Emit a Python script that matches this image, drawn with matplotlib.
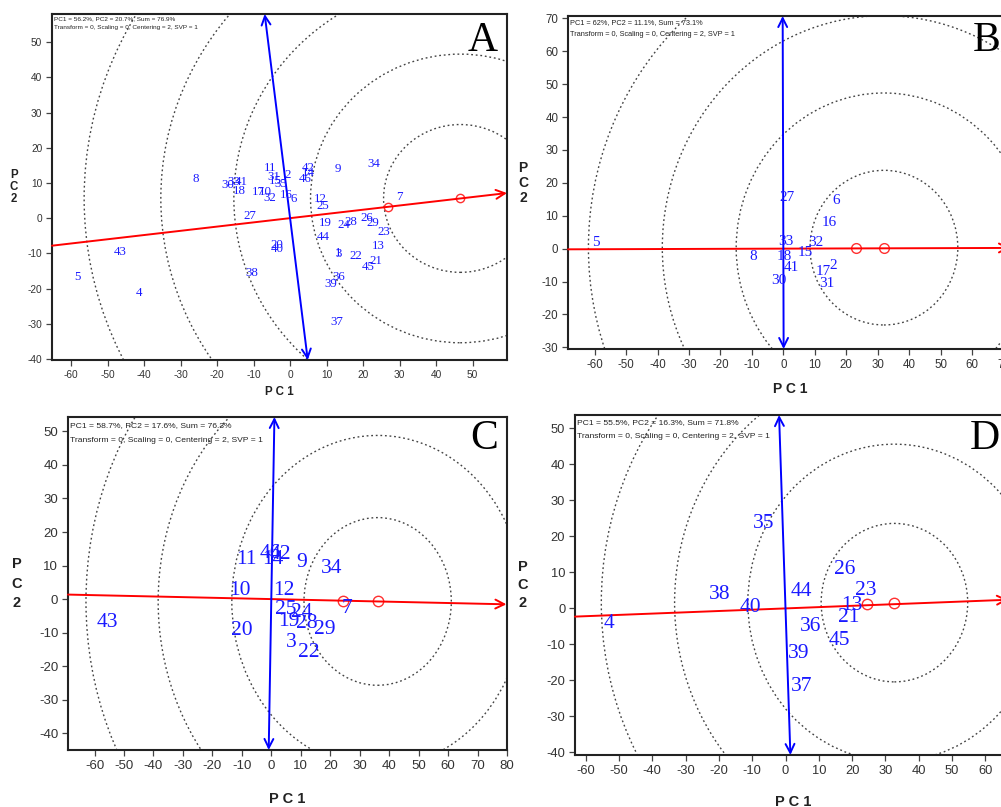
import numpy as np
import matplotlib
matplotlib.use('Agg')
import matplotlib.pyplot as plt
from matplotlib.patches import Circle

W, H = 1001, 807

# ---- panel A (all genotypes) ----
a_labels = [str(i) for i in range(1, 47)]
a_pc1 = [13.1, -0.7, 13.4, -41.3, -58.3, 0.9, 29.9, -25.8, 13.2, -6.7,
         -5.5, 8.4, 24.2, 5.0, -4.1, -1.1, -8.7, -13.9, 9.6, -3.65,
         23.5, 18.0, 25.8, 14.6, 8.95, 21.0, -11.0, 16.7, 22.6, -17.1,
         -4.4, -5.5, -15.5, 23.0, -2.5, 13.4, 12.8, -10.5, 11.2, -3.65,
         -13.5, 5.0, -46.4, 8.95, 21.3, 4.1]
a_pc2 = [-10.0, 12.3, -10.2, -21.4, -16.8, 5.35, 6.1, 11.1, 14.0, 7.3,
         14.3, 5.4, -7.9, 12.9, 10.6, 6.6, 7.3, 7.8, -1.5, -7.6,
         -12.2, -10.75, -3.8, -1.9, 3.45, 0.0, 0.7, -1.0, -1.5, 9.4,
         11.8, 5.7, 10.4, 15.4, 9.6, -16.8, -29.4, -15.5, -18.8, -8.7,
         10.4, 14.3, -9.7, -5.45, -13.8, 11.0]
a_slope = 0.12
a_mark_x = [26.9, 46.6]
a_mark_y = [3.3, 5.6]
a_rings = [21, 41, 62, 82, 103]
a_stats = ['PC1 = 56.2%, PC2 = 20.7%, Sum = 76.9%',
           'Transform = 0, Scaling = 0, Centering = 2, SVP = 1']

# ---- panel B ----
b_labels = ['5', '27', '6', '16', '33', '32', '15', '8', '18', '41', '30', '17', '2', '31']
b_pc1 = [-59.5, 1.3, 16.8, 14.7, 0.9, 10.4, 6.9, -9.5, 0.4, 2.7, -1.5, 12.8, 15.9, 13.8]
b_pc2 = [1.8, 15.5, 14.6, 8.0, 2.3, 1.8, -1.2, -2.4, -2.4, -5.7, -9.7, -7.0, -5.0, -10.5]
b_slope = 0.003
b_mark_x = [23.1, 32.0]
b_mark_y = [0.3, 0.3]
b_rings = [23.5, 47, 70.5, 94]
b_stats = ['PC1 = 62%, PC2 = 11.1%, Sum = 73.1%',
           'Transform = 0, Scaling = 0, Centering = 2, SVP = 1']

# ---- panel C ----
c_labels = ['43', '11', '10', '20', '46', '42', '14', '9', '34', '12',
            '25', '24', '19', '28', '29', '7', '3', '22']
c_pc1 = [-55.8, -8.3, -10.6, -10.0, -0.4, 3.0, 0.7, 10.3, 20.5, 4.1,
         5.0, 10.3, 5.8, 12.0, 18.2, 25.6, 6.9, 12.6]
c_pc2 = [-7.0, 11.7, 2.6, -9.4, 13.5, 13.2, 11.9, 11.0, 9.2, 2.6,
         -3.2, -3.9, -6.7, -7.2, -9.2, -2.7, -12.9, -15.8]
c_slope = -0.0195
c_mark_x = [24.4, 36.1]
c_mark_y = [-0.5, -0.7]
c_rings = [25, 49.5, 74.5, 99]
c_stats = ['PC1 = 58.7%, PC2 = 17.6%, Sum = 76.3%',
           'Transform = 0, Scaling = 0, Centering = 2, SVP = 1']

# ---- panel D ----
d_labels = ['35', '38', '40', '44', '4', '36', '39', '37', '26', '23', '13', '21', '45']
d_pc1 = [-6.6, -19.8, -10.4, 4.9, -53.1, 7.6, 3.9, 4.9, 17.9, 24.1, 19.9, 18.9, 16.2]
d_pc2 = [23.6, 4.0, 0.3, 4.6, -4.2, -5.1, -12.5, -21.6, 10.8, 5.1, 0.8, -2.5, -8.8]
d_slope = 0.036
d_mark_x = [24.4, 32.7]
d_mark_y = [1.2, 1.6]
d_rings = [22, 44, 66, 88]
d_stats = ['PC1 = 55.5%, PC2 = 16.3%, Sum = 71.8%',
           'Transform = 0, Scaling = 0, Centering = 2, SVP = 1']


def px_axes(fig, left, top, right, bottom):
    return fig.add_axes([left / W, 1 - bottom / H, (right - left) / W, (bottom - top) / H])


def draw_panel(ax, labels, pc1, pc2, slope, mark_x, mark_y, rings, xlim, ylim,
               xticks, yticks, label_fs, tick_fs, ms):
    ax.set_xlim(xlim)
    ax.set_ylim(ylim)
    # concentric rings around the ideal genotype
    cx, cy = mark_x[-1], mark_y[-1]
    for r in rings:
        ax.add_patch(Circle((cx, cy), r, fill=False, ec='#444444', lw=1.0,
                            ls=(0, (1.3, 2.0))))
    # average environment axis (red) and its perpendicular (blue)
    x0, x1 = xlim
    ax.annotate('', xy=(x1, slope * x1), xytext=(x0, slope * x0),
                arrowprops=dict(arrowstyle='->', color='red', lw=1.4,
                                mutation_scale=16, shrinkA=0, shrinkB=0),
                annotation_clip=False)
    y0, y1 = ylim
    ax.annotate('', xy=(-slope * y1, y1), xytext=(-slope * y0, y0),
                arrowprops=dict(arrowstyle='<->', color='blue', lw=1.4,
                                mutation_scale=16, shrinkA=0, shrinkB=0),
                annotation_clip=False)
    ax.plot(mark_x, mark_y, 'o', mfc='none', mec='#ff3030', ms=ms, mew=1.0)
    for lab, x, y in zip(labels, pc1, pc2):
        ax.text(x, y, lab, color='#1a1aff', fontsize=label_fs,
                family='Liberation Serif', ha='center', va='center')
    ax.set_xticks(xticks)
    ax.set_yticks(yticks)
    ax.tick_params(direction='out', length=4, width=0.9, color='#444444',
                   labelcolor='#333333', labelsize=tick_fs, pad=3)
    for s in ax.spines.values():
        s.set_linewidth(1.5)
        s.set_color('#222222')


def ftext(fig, x, y, s, **kw):
    fig.text(x / W, 1 - y / H, s, **kw)


plt.rcParams['font.family'] = ['Liberation Sans', 'DejaVu Sans']
plt.rcParams['axes.unicode_minus'] = False
fig = plt.figure(figsize=(W / 100, H / 100), dpi=100)

axA = px_axes(fig, 52, 14, 507, 360)
draw_panel(axA, a_labels, a_pc1, a_pc2, a_slope, a_mark_x, a_mark_y, a_rings,
           (-65.2, 59.4), (-40.3, 58), np.arange(-60, 51, 10), np.arange(-40, 51, 10),
           9.3, 7.3, 6)
axB = px_axes(fig, 568, 16, 1010, 349)
draw_panel(axB, b_labels, b_pc1, b_pc2, b_slope, b_mark_x, b_mark_y, b_rings,
           (-68.5, 72.1), (-30.5, 70.7), np.arange(-60, 71, 10), np.arange(-30, 71, 10),
           11, 8.3, 7)
axC = px_axes(fig, 68, 417, 507, 750)
draw_panel(axC, c_labels, c_pc1, c_pc2, c_slope, c_mark_x, c_mark_y, c_rings,
           (-69.0, 79.8), (-45.0, 54.3), np.arange(-60, 81, 10), np.arange(-40, 51, 10),
           15.5, 9.5, 7.5)
axD = px_axes(fig, 575, 415, 1008, 755)
draw_panel(axD, d_labels, d_pc1, d_pc2, d_slope, d_mark_x, d_mark_y, d_rings,
           (-63.2, 66.8), (-40.7, 53.7), np.arange(-60, 61, 10), np.arange(-40, 51, 10),
           15.5, 9.3, 7.5)

# stats lines, panel letters and axis titles
for (x, y1, y2, fs), stats in zip([(54, 19, 28, 4.6), (570, 23, 34, 5.3),
                                   (70, 426, 440, 6.1), (577, 423, 436, 6.1)],
                                  [a_stats, b_stats, c_stats, d_stats]):
    ftext(fig, x, y1, stats[0], fontsize=fs, va='center', ha='left', color='#222222')
    ftext(fig, x, y2, stats[1], fontsize=fs, va='center', ha='left', color='#222222')

for letter, x, y in [('A', 483, 41), ('B', 987, 41), ('C', 484, 439), ('D', 985, 439)]:
    ftext(fig, x, y, letter, fontsize=30, family='Liberation Serif',
          ha='center', va='center', color='black')

for x, y, fs in [(279, 392, 8.3), (790, 389, 10), (287, 799, 10.5), (793, 802, 10.5)]:
    ftext(fig, x, y, 'P C 1', fontsize=fs, fontweight='bold', ha='center', va='center',
          color='#222222')

for x, ys, fs in [(14, (175, 187, 199), 8.3), (523, (168, 183, 198), 10),
                  (17, (564, 584, 603), 10.5), (523, (567, 585, 603), 10.5)]:
    for ch, y in zip('PC2', ys):
        ftext(fig, x, y, ch, fontsize=fs, fontweight='bold', ha='center', va='center',
              color='#222222')

fig.savefig('out.png', dpi=100)
